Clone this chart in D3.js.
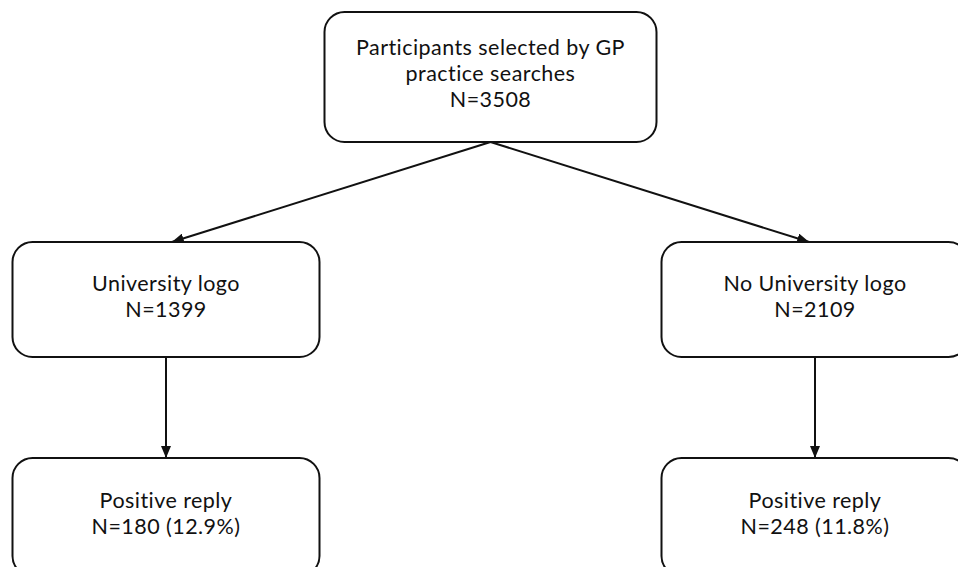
<!DOCTYPE html>
<html>
<head>
<meta charset="utf-8">
<script src="https://cdn.jsdelivr.net/npm/d3@7"></script>
<style>
  body { margin: 0; background: #fff; }
  text { font-family: "Lato", "Open Sans", sans-serif; fill: #111; }
</style>
</head>
<body>
<div id="viz"></div>
<script>
// flow chart content
var nodeIds    = ["all", "logo", "nologo", "logoReply", "nologoReply"];
var nodeTitles = [["Participants selected by GP", "practice searches"], ["University logo"], ["No University logo"], ["Positive reply"], ["Positive reply"]];
var nodeCounts = [3508, 1399, 2109, 180, 248];
var nodePcts   = [null, null, null, 12.9, 11.8];
var nodeCols   = ["mid", "left", "right", "left", "right"];
var nodeRows   = ["top", "middle", "middle", "bottom", "bottom"];
var linkFrom   = ["all", "all", "logo", "nologo"];
var linkTo     = ["logo", "nologo", "logoReply", "nologoReply"];

var width = 958, height = 567;

var svg = d3.select("#viz").append("svg")
    .attr("width", width)
    .attr("height", height);

var x = d3.scalePoint()
    .domain(["left", "mid", "right"])
    .range([166, 815]);

var rowTop = d3.scaleOrdinal().domain(["top", "middle", "bottom"]).range([12, 242, 458]);
var rowH   = d3.scaleOrdinal().domain(["top", "middle", "bottom"]).range([130, 115, 118]);
var colW   = d3.scaleOrdinal().domain(["left", "mid", "right"]).range([307, 332, 307]);

var nodes = nodeIds.map(function(id, i){
    var lines = nodeTitles[i].slice();
    lines.push("N=" + nodeCounts[i] + (nodePcts[i] != null ? " (" + nodePcts[i].toFixed(1) + "%)" : ""));
    var w = colW(nodeCols[i]), h = rowH(nodeRows[i]);
    return {id: id, lines: lines, cx: x(nodeCols[i]), y: rowTop(nodeRows[i]), w: w, h: h};
});
var byId = {};
nodes.forEach(function(d){ byId[d.id] = d; });

svg.append("defs").append("marker")
    .attr("id", "arrow")
    .attr("viewBox", "0 0 12 10")
    .attr("refX", 12)
    .attr("refY", 5)
    .attr("markerWidth", 12)
    .attr("markerHeight", 10)
    .attr("markerUnits", "userSpaceOnUse")
    .attr("orient", "auto")
  .append("path")
    .attr("d", "M0,0 L12,5 L0,10 Z")
    .attr("fill", "#111");

// links
var links = linkFrom.map(function(f, i){
    var a = byId[f], b = byId[linkTo[i]];
    var x2 = b.cx;
    // diagonal links land a bit inward of the target centre
    if (a.cx !== b.cx) x2 = b.cx + (a.cx - b.cx) * 0.018;
    return {x1: a.cx, y1: a.y + a.h, x2: x2, y2: b.y};
});

svg.selectAll(".link")
    .data(links)
  .enter().append("line")
    .attr("class", "link")
    .attr("x1", function(d){ return d.x1; })
    .attr("y1", function(d){ return d.y1; })
    .attr("x2", function(d){ return d.x2; })
    .attr("y2", function(d){ return d.y2; })
    .attr("stroke", "#111")
    .attr("stroke-width", 2)
    .attr("marker-end", "url(#arrow)");

// boxes
var node = svg.selectAll(".node")
    .data(nodes)
  .enter().append("g")
    .attr("class", "node");

node.append("rect")
    .attr("x", function(d){ return d.cx - d.w / 2; })
    .attr("y", function(d){ return d.y; })
    .attr("width", function(d){ return d.w; })
    .attr("height", function(d){ return d.h; })
    .attr("rx", 20)
    .attr("fill", "#fff")
    .attr("stroke", "#111")
    .attr("stroke-width", 2);

node.each(function(d){
    var g = d3.select(this),
        lh = 26,
        first = d.y + d.h / 2 - (d.lines.length - 1) * lh / 2 + 4;
    g.selectAll("text")
        .data(d.lines)
      .enter().append("text")
        .attr("x", d.cx)
        .attr("y", function(t, i){ return first + i * lh; })
        .attr("text-anchor", "middle")
        .attr("font-size", 21.5)
        .attr("letter-spacing", 0.45)
        .text(function(t){ return t; });
});
</script>
</body>
</html>
